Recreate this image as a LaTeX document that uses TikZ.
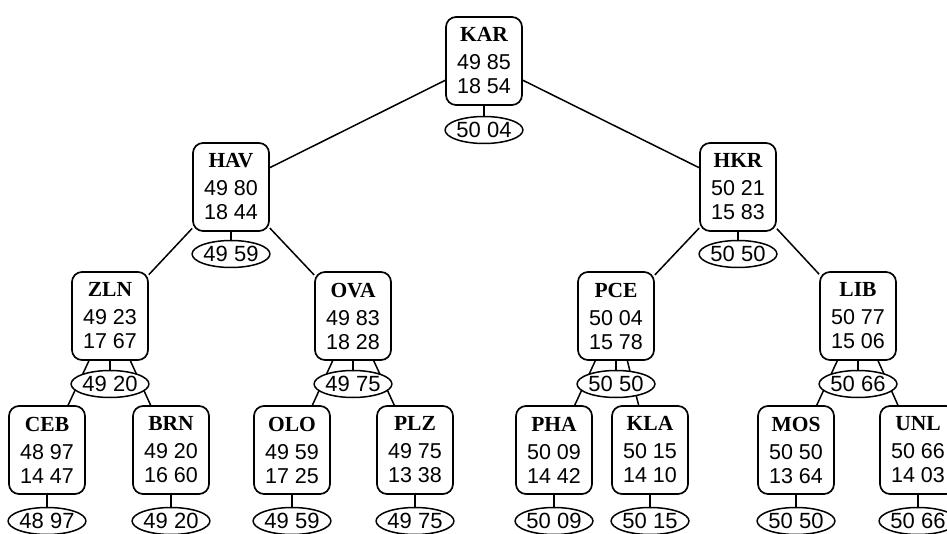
\documentclass[tikz,border=0pt]{standalone}
\usepackage{fontspec}
\setmainfont{Liberation Sans}
\newfontfamily\cityfont{Liberation Serif}
\usetikzlibrary{shapes.geometric,backgrounds}
\newcommand{\cityname}[1]{{\cityfont\bfseries #1}\\[4pt]}
\tikzset{
  cell/.style={draw, line width=1.7pt, rounded corners=10pt, fill=white,
    minimum width=76pt, minimum height=88pt, inner sep=0pt, align=center,
    font=\fontsize{21.5}{24}\selectfont},
  coordell/.style={draw, ellipse, line width=1.5pt, fill=white,
    minimum width=76pt, minimum height=27pt, inner sep=0pt,
    font=\fontsize{22}{24}\selectfont},
  link/.style={line width=1.5pt},
}
\begin{document}
\begin{tikzpicture}[x=1pt,y=-1pt]
\useasboundingbox (0,0) rectangle (947,534);
\clip (0,0) rectangle (947,534);
% level 0
\node[cell] (kar) at (484,61) {\cityname{KAR}49 85\\18 54};
\node[coordell] (kare) at (484,130) {50 04};
% level 1
\node[cell] (hav) at (231,187) {\cityname{HAV}49 80\\18 44};
\node[coordell] (have) at (231,254) {49 59};
\node[cell] (hkr) at (738,187) {\cityname{HKR}50 21\\15 83};
\node[coordell] (hkre) at (738,254) {50 50};
% level 2
\node[cell] (zln) at (110,316) {\cityname{ZLN}49 23\\17 67};
\node[coordell] (zlne) at (110,384) {49 20};
\node[cell] (ova) at (353,316) {\cityname{OVA}49 83\\18 28};
\node[coordell] (ovae) at (353,384) {49 75};
\node[cell] (pce) at (616,316) {\cityname{PCE}50 04\\15 78};
\node[coordell] (pcee) at (616,384) {50 50};
\node[cell] (lib) at (858,316) {\cityname{LIB}50 77\\15 06};
\node[coordell] (libe) at (858,384) {50 66};
% level 3
\node[cell] (ceb) at (47,450) {\cityname{CEB}48 97\\14 47};
\node[coordell] (cebe) at (47,521) {48 97};
\node[cell] (brn) at (171,450) {\cityname{BRN}49 20\\16 60};
\node[coordell] (brne) at (171,521) {49 20};
\node[cell] (olo) at (292,450) {\cityname{OLO}49 59\\17 25};
\node[coordell] (oloe) at (292,521) {49 59};
\node[cell] (plz) at (415,450) {\cityname{PLZ}49 75\\13 38};
\node[coordell] (plze) at (415,521) {49 75};
\node[cell] (pha) at (554,450) {\cityname{PHA}50 09\\14 42};
\node[coordell] (phae) at (554,521) {50 09};
\node[cell] (kla) at (650,450) {\cityname{KLA}50 15\\14 10};
\node[coordell] (klae) at (650,521) {50 15};
\node[cell] (mos) at (796,450) {\cityname{MOS}50 50\\13 64};
\node[coordell] (mose) at (796,521) {50 50};
\node[cell] (unl) at (918,450) {\cityname{UNL}50 66\\14 03};
\node[coordell] (unle) at (918,521) {50 66};
\begin{pgfonlayer}{background}
  \foreach \p/\c in {kar/hav,kar/hkr,hav/zln,hav/ova,hkr/pce,hkr/lib,
      zln/ceb,zln/brn,ova/olo,ova/plz,pce/pha,pce/kla,lib/mos,lib/unl}
    {\draw[link] (\p) -- (\c);}
  \foreach \n in {kar,hav,hkr,zln,ova,pce,lib,ceb,brn,olo,plz,pha,kla,mos,unl}
    {\draw[link] (\n) -- (\n e);}
\end{pgfonlayer}
\end{tikzpicture}
\end{document}
